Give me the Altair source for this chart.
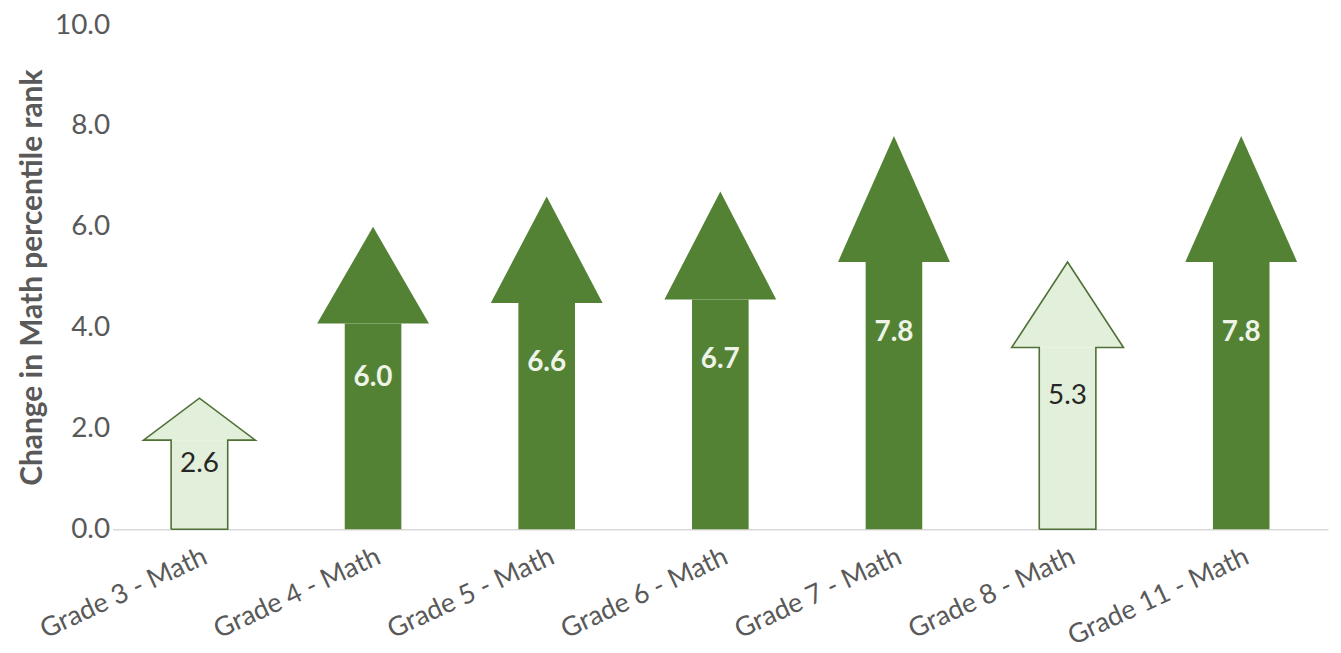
import json
import altair as alt
import pandas as pd

# ---- data ----
categories = ["Grade 3 - Math", "Grade 4 - Math", "Grade 5 - Math", "Grade 6 - Math",
              "Grade 7 - Math", "Grade 8 - Math", "Grade 11 - Math"]
values = [2.6, 6.0, 6.6, 6.7, 7.8, 5.3, 7.8]
significant = [False, True, True, True, True, False, True]
y_ticks = [0, 2, 4, 6, 8, 10]

# ---- styling ----
DARK = "#548235"
LIGHT = "#E2EFDA"
OUTLINE = "#4F7036"
FONT = "Lato"
SHAFT_HALF = 0.163       # half shaft width, in category steps
HEAD_HALF = 0.322        # half head width, in category steps
HEAD_BASE_FRAC = 0.68    # head starts at this fraction of the arrow length

shaft_rows, head_rows, outline_rows, label_rows = [], [], [], []
for i, (cat, v, sig) in enumerate(zip(categories, values, significant)):
    kind = "sig" if sig else "ns"
    base = v * HEAD_BASE_FRAC
    shaft_rows.append({"x": i - SHAFT_HALF, "x2": i + SHAFT_HALF, "y": 0.0, "y2": base, "kind": kind})
    for xx, yy in [(i - HEAD_HALF, base), (i, v), (i + HEAD_HALF, base)]:
        head_rows.append({"x": xx, "y": yy, "y2": base, "id": i, "kind": kind})
    if not sig:
        pts = [(i - SHAFT_HALF, 0), (i - SHAFT_HALF, base), (i - HEAD_HALF, base), (i, v),
               (i + HEAD_HALF, base), (i + SHAFT_HALF, base), (i + SHAFT_HALF, 0), (i - SHAFT_HALF, 0)]
        for k, (xx, yy) in enumerate(pts):
            outline_rows.append({"x": xx, "y": yy, "id": i, "k": k})
    label_rows.append({"x": i, "y": v / 2, "text": f"{v:.1f}", "kind": kind})

shaft_df = pd.DataFrame(shaft_rows)
head_df = pd.DataFrame(head_rows)
outline_df = pd.DataFrame(outline_rows)
label_df = pd.DataFrame(label_rows)

label_expr = json.dumps(categories) + "[datum.value]"


def xenc(field="x"):
    return alt.X(
        f"{field}:Q",
        scale=alt.Scale(domain=[-0.5, len(categories) - 0.5], nice=False, zero=False),
        axis=alt.Axis(
            values=list(range(len(categories))),
            labelExpr=label_expr,
            title=None,
            grid=False,
            ticks=False,
            domain=True,
            domainColor="#D9D9D9",
            domainWidth=1.5,
            labelAngle=335,
            labelAlign="right",
            labelBaseline="top",
            labelPadding=14,
            labelFont=FONT,
            labelFontSize=27,
            labelColor="#595959",
            labelOverlap=False,
            labelLimit=600,
        ),
    )


def yenc(field="y"):
    return alt.Y(
        f"{field}:Q",
        scale=alt.Scale(domain=[0, 10], nice=False),
        axis=alt.Axis(
            values=y_ticks,
            format=".1f",
            title="Change in Math percentile rank",
            titleFont=FONT,
            titleFontSize=30,
            titleFontWeight="bold",
            titleColor="#595959",
            titlePadding=7,
            grid=False,
            ticks=False,
            domain=False,
            labelPadding=3,
            labelFont=FONT,
            labelFontSize=28,
            labelColor="#595959",
        ),
    )


color = alt.Color("kind:N", scale=alt.Scale(domain=["sig", "ns"], range=[DARK, LIGHT]), legend=None)

shaft = alt.Chart(shaft_df).mark_rect().encode(
    x=xenc(), x2="x2:Q", y=yenc(), y2="y2:Q", color=color
)

head = alt.Chart(head_df).mark_area(interpolate="linear").encode(
    x=xenc(), y=yenc(), y2="y2:Q", detail="id:N", color=color
)

outline = alt.Chart(outline_df).mark_line(color=OUTLINE, strokeWidth=1.6, strokeJoin="miter").encode(
    x=xenc(), y=yenc(), detail="id:N", order="k:Q"
)

labels_sig = alt.Chart(label_df).transform_filter("datum.kind == 'sig'").mark_text(
    font=FONT, fontSize=28, fontWeight="bold", color="#EEF4E8", baseline="middle", align="center"
).encode(x=xenc(), y=yenc(), text="text:N")

labels_ns = alt.Chart(label_df).transform_filter("datum.kind == 'ns'").mark_text(
    font=FONT, fontSize=28, color="#262626", baseline="middle", align="center"
).encode(x=xenc(), y=yenc(), text="text:N")

chart = alt.layer(shaft, head, outline, labels_sig, labels_ns).properties(
    width=1220,
    height=506,
    background="white",
    autosize=alt.AutoSizeParams(type="none"),
    padding={"left": 105, "top": 16, "right": 5, "bottom": 123},
).configure_view(strokeWidth=0, stroke="transparent")

chart.save("out.html", embed_options={"renderer": "svg", "actions": False})
